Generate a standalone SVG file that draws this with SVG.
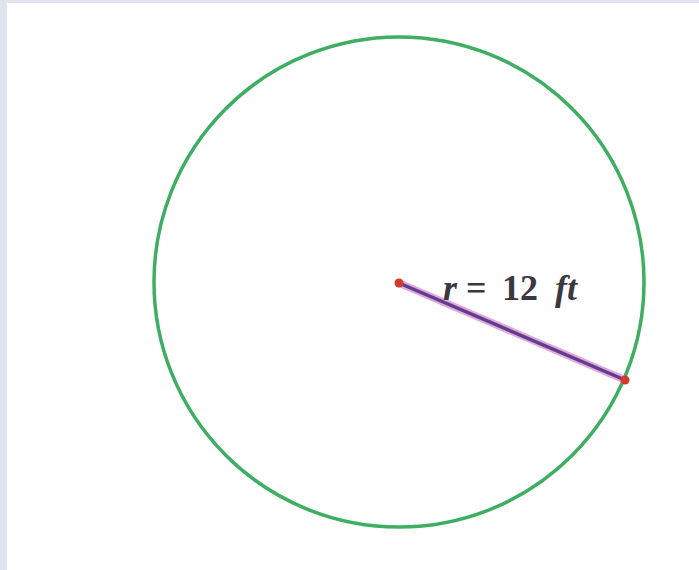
<svg xmlns="http://www.w3.org/2000/svg" width="699" height="570" viewBox="0 0 699 570">
  <style>
    .lbl { font-family: "Liberation Serif", "Times New Roman", serif; font-size: 36px; font-weight: bold; fill: #3a3840; }
    .it { font-style: italic; }
  </style>
  <rect x="0" y="0" width="699" height="570" fill="#dfe5ee"/>
  <rect x="7" y="3" width="692" height="567" fill="#ffffff"/>
  <g id="circle">
    <circle cx="399" cy="282" r="245" fill="none" stroke="#3dae62" stroke-width="3.5"/>
  </g>
  <g id="connectors">
    <line x1="399" y1="283" x2="625" y2="380" stroke="#e6a6d8" stroke-width="7.5" stroke-linecap="round"/>
    <line x1="399" y1="283" x2="625" y2="380" stroke="#5d3f8f" stroke-width="3.5"/>
  </g>
  <g id="center-point">
    <circle cx="399" cy="283" r="4.5" fill="#d23a2a"/>
  </g>
  <g id="edge-point">
    <circle cx="625" cy="380" r="4.5" fill="#d23a2a"/>
  </g>
  <g id="label">
    <text class="lbl" y="300"><tspan class="it" x="443">r</tspan><tspan x="466">=</tspan><tspan x="502">12</tspan><tspan class="it" x="555">ft</tspan></text>
  </g>
</svg>
